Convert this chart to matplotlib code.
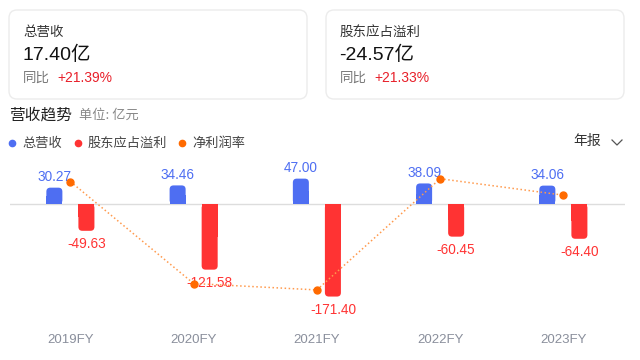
import matplotlib.pyplot as plt
from matplotlib.patches import FancyBboxPatch

plt.rcParams['font.family'] = ['Liberation Sans', 'Noto Sans CJK SC']

years = ["2019FY", "2020FY", "2021FY", "2022FY", "2023FY"]
revenue = [30.27, 34.46, 47.00, 38.09, 34.06]
profit = [-49.63, -121.58, -171.40, -60.45, -64.40]
margin = [-163.96, -352.82, -364.68, -158.70, -189.08]  # 净利润率 %

card_titles = ["总营收", "股东应占溢利"]
card_values = ["17.40亿", "-24.57亿"]
card_yoy = ["+21.39%", "+21.33%"]

BLUE = "#4E6EF2"
RED = "#FF3333"
ORANGE = "#FF6A00"
GRAY = "#8A8F9C"
CJK = ['Noto Sans CJK SC', 'DejaVu Sans']

W, H = 640, 360
fig = plt.figure(figsize=(6.4, 3.6), dpi=100)

# fondo en pixeles
bg = fig.add_axes([0, 0, 1, 1], zorder=0)
bg.set_xlim(0, W)
bg.set_ylim(H, 0)
bg.axis("off")

card_x = [9, 326]
for i in range(2):
    x0 = card_x[i]
    box = FancyBboxPatch((x0, 10), 298, 89, boxstyle="round,pad=0,rounding_size=8",
                         facecolor="white", edgecolor="#ECECEC", linewidth=1)
    bg.add_patch(box)
    bg.text(x0 + 14, 32, card_titles[i], fontsize=9.7, color="#333333", va="center", family=CJK)
    bg.text(x0 + 13, 55, card_values[i], fontsize=14, color="#111111", va="center")
    bg.text(x0 + 14, 78, "同比", fontsize=9.7, color="#777777", va="center", family=CJK)
    bg.text(x0 + 48, 78, card_yoy[i], fontsize=10, color="#E8202A", va="center")

bg.text(9, 115, "营收趋势", fontsize=11.3, color="#222222", va="center", family=CJK)
bg.text(79, 115, "单位: 亿元", fontsize=9.5, color="#888888", va="center", family=CJK)

legend_items = [("总营收", BLUE, 12), ("股东应占溢利", RED, 78), ("净利润率", ORANGE, 182)]
for name, c, lx in legend_items:
    bg.plot(lx, 143, "o", color=c, markersize=4.5)
    bg.text(lx + 10, 143, name, fontsize=9.5, color="#444444", va="center", family=CJK)
bg.text(573, 141, "年报", fontsize=10, color="#333333", va="center", family=CJK)
bg.plot([612, 617, 622], [140, 145, 140], color="#555555", linewidth=0.9)

# grafico
ax = fig.add_axes([10 / W, 1 - 320 / H, 615 / W, 160 / H], zorder=1)
ax.patch.set_alpha(0)
x = list(range(len(years)))
off = 0.13
bw = 0.13
ax.set_xlim(-0.49, 4.5)
ax.set_ylim(-214.8, 81.5)

# barras con esquinas redondeadas solo en el extremo
aspect = 123.3 / 0.54
rad = 0.032
for i in x:
    for xc, v, c in [(i - off, revenue[i], BLUE), (i + off, profit[i], RED)]:
        y0 = min(0, v)
        ax.add_patch(FancyBboxPatch((xc - bw / 2, y0), bw, abs(v),
                                    boxstyle=f"round,pad=0,rounding_size={rad}",
                                    mutation_aspect=aspect, facecolor=c, edgecolor="none"))
ax.bar([i - off for i in x], [v / 2 for v in revenue], width=bw, color=BLUE)
ax.bar([i + off for i in x], [v / 2 for v in profit], width=bw, color=RED)

for i in x:
    ax.text(i - off, revenue[i] + 6, f"{revenue[i]:.2f}", ha="center", va="bottom",
            fontsize=9.8, color=BLUE)
    ax.text(i + off, profit[i] - 12, f"{profit[i]:.2f}", ha="center", va="top",
            fontsize=9.8, color=RED)
ax.axhline(0, color="#DDDDDD", linewidth=1, zorder=0)
ax.set_xticks(x, years)
ax.tick_params(axis="x", length=0, pad=10, labelsize=9.5, labelcolor=GRAY)
ax.set_yticks([])
for s in ax.spines.values():
    s.set_visible(False)

ax2 = ax.twinx()
ax2.plot(x, margin, linestyle=":", color="#FF9A4D", linewidth=1.1)
ax2.plot(x, margin, "o", color=ORANGE, markersize=5)
ax2.set_ylim(-420.4, -124)
ax2.set_yticks([])
for s in ax2.spines.values():
    s.set_visible(False)

fig.savefig("out.png", dpi=100)
